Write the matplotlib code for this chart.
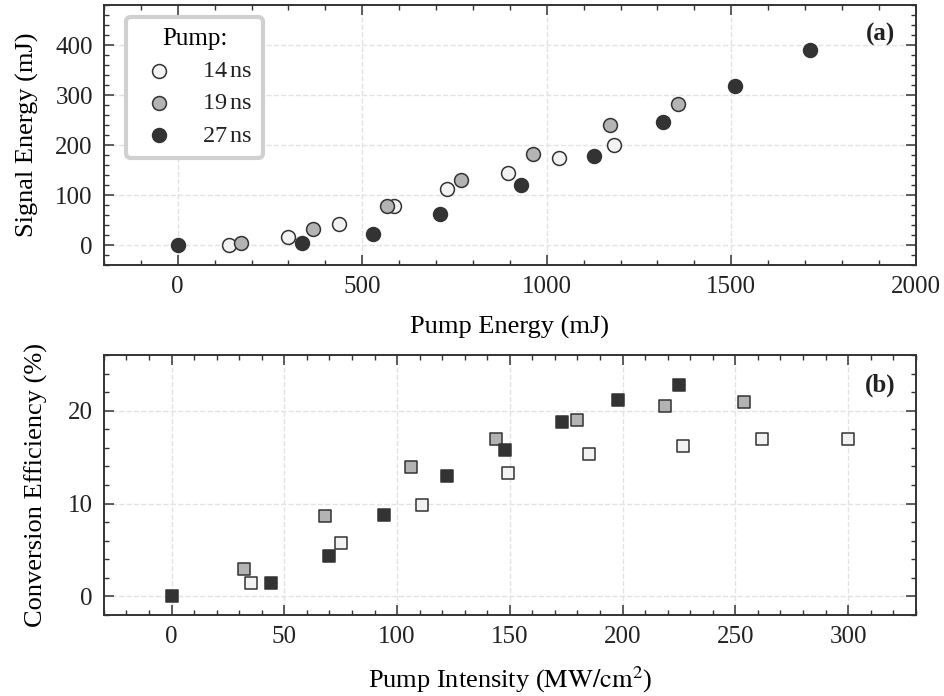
import matplotlib
matplotlib.use('Agg')
import matplotlib.pyplot as plt
from matplotlib.ticker import MultipleLocator

plt.rcParams['font.family'] = ['Liberation Serif', 'DejaVu Serif']
plt.rcParams['mathtext.fontset'] = 'stix'

# (a) signal energy vs pump energy
e14_x = [138, 300, 436, 587, 729, 894, 1032, 1182]
e14_y = [1, 17, 43, 78, 112, 145, 175, 201]
e19_x = [171, 366, 566, 769, 963, 1172, 1356]
e19_y = [5, 32, 79, 131, 183, 240, 283]
e27_x = [0, 337, 528, 710, 930, 1129, 1315, 1509, 1714]
e27_y = [0, 5, 22, 62, 121, 178, 247, 319, 391]

# (b) conversion efficiency vs pump intensity
i14_x = [35, 75, 111, 149, 185, 227, 262, 300]
i14_y = [1.4, 5.7, 9.8, 13.3, 15.3, 16.2, 17.0, 17.0]
i19_x = [32, 68, 106, 144, 180, 219, 254]
i19_y = [2.9, 8.7, 13.9, 17.0, 19.0, 20.5, 20.9]
i27_x = [0, 44, 70, 94, 122, 148, 173, 198, 225]
i27_y = [0, 1.4, 4.3, 8.8, 13.0, 15.8, 18.8, 21.1, 22.8]

labels = ['14$\\,$ns', '19$\\,$ns', '27$\\,$ns']
fills = ['#f2f2f2', '#b3b3b3', '#333333']
edge = '#333333'

fig = plt.figure(figsize=(9.45, 6.96), dpi=100)
ax1 = fig.add_axes([0.110, 0.619, 0.859, 0.3736])
ax2 = fig.add_axes([0.110, 0.1164, 0.859, 0.3736])

for xs, ys, lab, fc in zip([e14_x, e19_x, e27_x], [e14_y, e19_y, e27_y], labels, fills):
    ax1.scatter(xs, ys, s=100, marker='o', facecolor=fc, edgecolor=edge, linewidth=1.1, label=lab, zorder=3)
for xs, ys, fc in zip([i14_x, i19_x, i27_x], [i14_y, i19_y, i27_y], fills):
    ax2.scatter(xs, ys, s=85, marker='s', facecolor=fc, edgecolor=edge, linewidth=1.1, zorder=3)

ax1.set_xlim(-200, 2000)
ax1.set_ylim(-40, 480)
ax1.xaxis.set_major_locator(MultipleLocator(500))
ax1.xaxis.set_minor_locator(MultipleLocator(100))
ax1.yaxis.set_major_locator(MultipleLocator(100))
ax1.yaxis.set_minor_locator(MultipleLocator(20))
ax1.set_yticks([0, 100, 200, 300, 400])
ax1.set_xlabel('Pump Energy (mJ)', fontsize=19, labelpad=13)
ax1.set_ylabel('Signal Energy (mJ)', fontsize=19, labelpad=12)

ax2.set_xlim(-30, 330)
ax2.set_ylim(-2, 26)
ax2.xaxis.set_major_locator(MultipleLocator(50))
ax2.xaxis.set_minor_locator(MultipleLocator(10))
ax2.yaxis.set_major_locator(MultipleLocator(10))
ax2.yaxis.set_minor_locator(MultipleLocator(2))
ax2.set_xticks([0, 50, 100, 150, 200, 250, 300])
ax2.set_yticks([0, 10, 20])
ax2.set_xlabel('Pump Intensity ($\\mathrm{MW/cm^2}$)', fontsize=19, labelpad=12)
ax2.set_ylabel('Conversion Efficiency (%)', fontsize=19, labelpad=14)

for ax, tag in [(ax1, '(a)'), (ax2, '(b)')]:
    ax.grid(True, which='major', linestyle='--', color='#e3e3e3', linewidth=1.0, zorder=0)
    ax.set_axisbelow(True)
    ax.tick_params(which='both', direction='in', top=True, right=True, colors='#333333',
                   labelcolor='#222222', labelsize=18, pad=8)
    ax.tick_params(which='major', length=7, width=1.1)
    ax.tick_params(which='minor', length=3.5, width=1.0)
    for sp in ax.spines.values():
        sp.set_linewidth(1.4)
        sp.set_color('#333333')
    ax.text(0.975, 0.93, tag, transform=ax.transAxes, ha='right', va='top',
            fontsize=18, fontweight='bold', color='#222222')

leg = ax1.legend(loc='upper left', title='Pump:', fontsize=17.5, title_fontsize=18,
                 frameon=True, fancybox=True, borderpad=0.45, labelspacing=0.42,
                 handletextpad=0.9, handlelength=1.8, borderaxespad=0,
                 bbox_to_anchor=(0.027, 0.954))
leg.get_frame().set_edgecolor('#d0d0d0')
leg.get_frame().set_linewidth(3)
leg.get_frame().set_alpha(1)
for t in leg.get_texts():
    t.set_color('#222222')

fig.savefig('out.png', dpi=100)
